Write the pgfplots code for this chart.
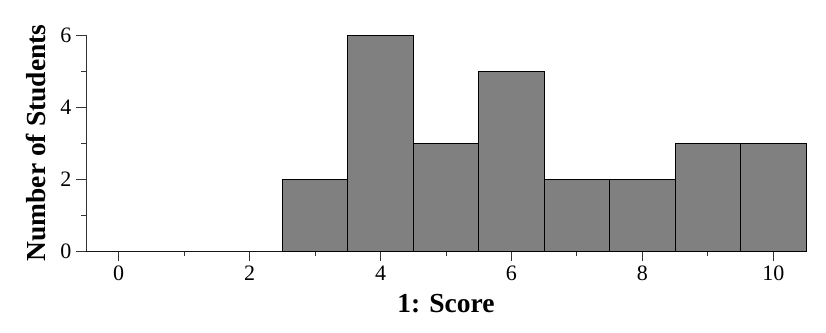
\documentclass[border=0pt]{standalone}
\usepackage{fontspec}
\setmainfont{Liberation Serif}
\usepackage{pgfplots}
\pgfplotsset{compat=1.18}
\begin{document}
\begin{tikzpicture}[x=1pt,y=1pt]
\path[use as bounding box] (0,0) rectangle (826,332);
\begin{axis}[
  at={(86pt,81pt)}, anchor=south west,
  scale only axis, width=720pt, height=216pt,
  xmin=-0.5, xmax=10.5, ymin=0, ymax=6,
  axis lines=left, axis line style={line width=1pt, draw=black!80, -},
  xtick={0,2,...,10}, minor xtick={1,3,...,9},
  ytick={0,2,4,6}, minor ytick={1,3,5},
  tick align=outside,
  major tick length=10pt, minor tick length=5pt,
  tick style={line width=1pt, black!80},
  /pgf/number format/assume math mode=true,
  tick label style={font=\fontsize{22}{24}\selectfont},
  xticklabel style={yshift=-1pt},
  yticklabel style={xshift=-1pt},
  xlabel={\textbf{1: Score}},
  ylabel={\textbf{Number of Students}},
  label style={font=\fontsize{27.5}{30}\selectfont},
  xlabel style={yshift=-7pt},
  ylabel style={yshift=8pt},
  clip=false,
]
\addplot[ybar interval, fill=black!50, draw=black, line width=1pt] coordinates {
(-0.5,0) (0.5,0) (1.5,0) (2.5,2) (3.5,6) (4.5,3) (5.5,5) (6.5,2) (7.5,2) (8.5,3) (9.5,3) (10.5,3)
};
\end{axis}
\end{tikzpicture}
\end{document}
